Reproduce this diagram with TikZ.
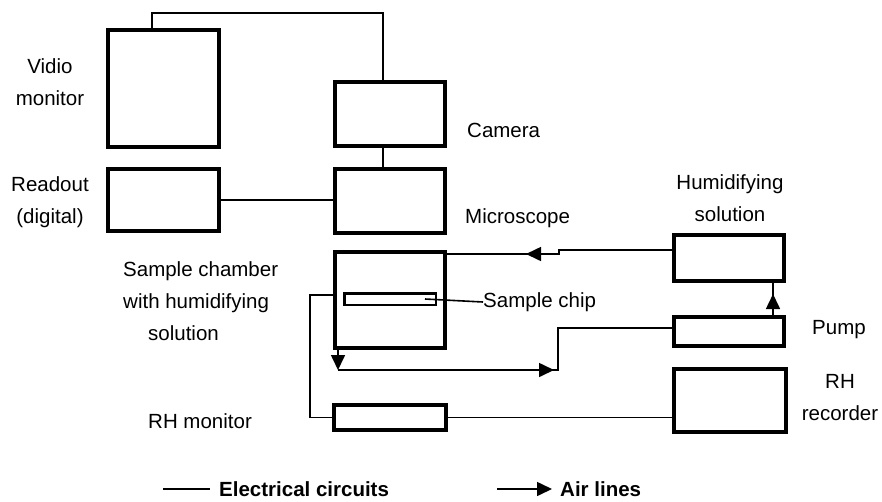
\documentclass[tikz,border=0pt]{standalone}
\usepackage{fontspec}
\setmainfont{Liberation Sans}
\usetikzlibrary{arrows.meta,decorations.markings}

\begin{document}
\begin{tikzpicture}[x = 1pt, y = -1pt, >={Triangle[length=15pt,width=14pt]},
		unit/.style = {draw, line width = 4pt, inner sep = 0pt},
		wire/.style = {line width = 1.6pt},
		lbl/.style = {font = \fontsize{20.5}{32}\selectfont, inner sep = 0pt},
		legend/.style = {font = \fontsize{20.5}{32}\selectfont\bfseries, inner sep = 0pt, anchor = west}]
		\useasboundingbox (0,0) rectangle (882,501);
		% boxes
		\node [unit, minimum width = 111, minimum height = 117] (vmon) at (163.5,88.5) {};
		\node [unit, minimum width = 111, minimum height = 62] (readout) at (163.5,200) {};
		\node [unit, minimum width = 110, minimum height = 64] (cam) at (390,114) {};
		\node [unit, minimum width = 110, minimum height = 64] (micro) at (390,201) {};
		\node [unit, minimum width = 110, minimum height = 96] (chamber) at (390,300) {};
		\node [draw, line width = 2.5pt, inner sep = 0pt, minimum width = 91.5, minimum height = 11.5] (chip) at (390,299) {};
		\node [unit, minimum width = 112, minimum height = 25] (rhmon) at (390,417.5) {};
		\node [unit, minimum width = 110, minimum height = 46] (humid) at (729,258) {};
		\node [unit, minimum width = 110, minimum height = 29] (pump) at (729,331.5) {};
		\node [unit, minimum width = 112, minimum height = 63] (rhrec) at (730,400.5) {};
		% labels
		\node [lbl, align = center] (vmonlbl) at (50,82) {Vidio\\monitor};
		\node [lbl, align = center] (readoutlbl) at (50,202) {Readout\\(digital)};
		\node [lbl, anchor = west] (camlbl) at (467,130) {Camera};
		\node [lbl, anchor = west] (microlbl) at (465,218) {Microscope};
		\node [lbl, align = left, anchor = west] (chamberlbl) at (123,301) {Sample chamber\\with humidifying\\\hspace*{25pt}solution};
		\node [lbl, anchor = west] (chiplbl) at (483,302) {Sample chip};
		\node [lbl, align = center] (humidlbl) at (730,198) {Humidifying\\solution};
		\node [lbl, anchor = west] (pumplbl) at (812,330) {Pump};
		\node [lbl, anchor = west] (rhmonlbl) at (148,421) {RH monitor};
		\node [lbl, align = center] (rhreclbl) at (840,398) {RH\\recorder};
		% electrical circuits
		\coordinate (top) at (383,13);
		\draw [wire] ([xshift=46pt]vmon.north west) |- (top) -- (top |- cam.north);
		\draw [wire] (top |- cam.south) -- (top |- micro.north);
		\draw [wire] (readout.east) -- (readout.east -| micro.west);
		\draw [wire] ([yshift=5pt]chamber.west) -- ++(-23,0) |- (rhmon.west);
		\draw [wire] (rhmon.east) -- (rhmon.east -| rhrec.west);
		\draw [wire] ([xshift=-12pt]chip.east) -- (chiplbl.west);
		% air lines
		\coordinate (atop) at (559,254);
		\coordinate (abot) at (558,370);
		\coordinate (aout) at ([xshift=5pt]chamber.south west);
		\draw [wire, postaction = decorate, decoration = {markings, mark = at position 150pt with {\arrow{>}}}]
			([yshift=8pt]humid.west) -| (atop) -- (atop -| chamber.east);
		\draw [wire, ->] (aout) -- (aout |- abot);
		\draw [wire, postaction = decorate, decoration = {markings, mark = at position 216pt with {\arrow{>}}}]
			(aout |- abot) -- (abot) |- ([yshift=3.5pt]pump.west);
		\draw [wire, postaction = decorate, decoration = {markings, mark = at position 21pt with {\arrow{>}}}]
			([xshift=44pt]pump.north) -- ([xshift=44pt]humid.south);
		% legend
		\node [legend] (eleclbl) at (219,489) {Electrical circuits};
		\node [legend] (airlbl) at (560,489) {Air lines};
		\coordinate (lgwire) at (163,489);
		\coordinate (lgair) at (497,489);
		\draw [wire] (lgwire) -- ([xshift=-9pt]eleclbl.west);
		\draw [wire, ->] (lgair) -- ([xshift=-8pt]airlbl.west);
	\end{tikzpicture}
\end{document}
